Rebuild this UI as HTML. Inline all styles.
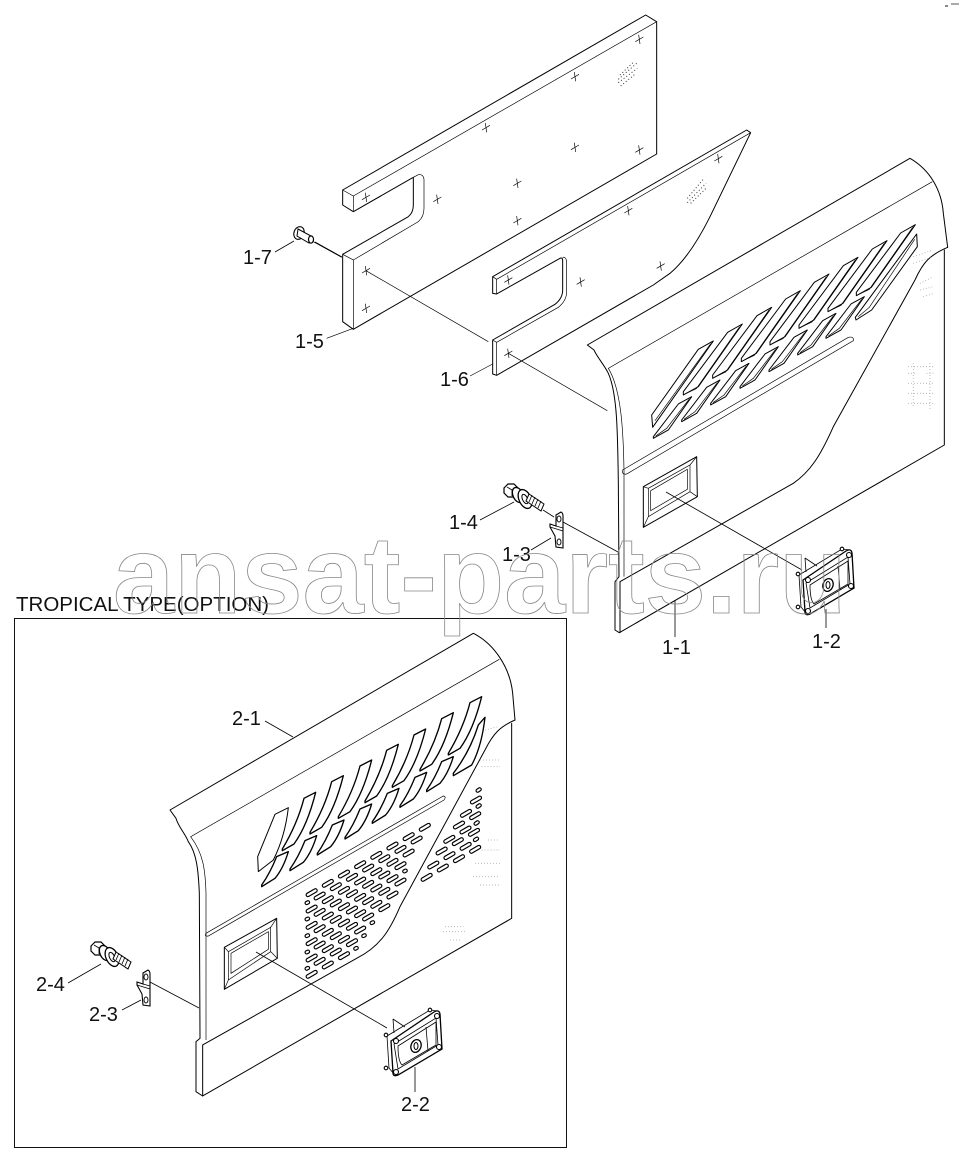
<!DOCTYPE html>
<html><head><meta charset="utf-8">
<style>
html,body{margin:0;padding:0;background:#fff;width:961px;height:1162px;overflow:hidden}
svg{display:block}
text{font-family:"Liberation Sans",sans-serif}
.l{font-size:20px;fill:#111}
.thin{fill:none;stroke:#000;stroke-width:.8}
.z{fill:none;stroke:#000;stroke-width:3;stroke-linejoin:round;stroke-linecap:round}
.zt{fill:none;stroke:#000;stroke-width:2}
.d{fill:none;stroke:#999;stroke-width:3;stroke-dasharray:2 7}
.dk{fill:none;stroke:#333;stroke-width:3;stroke-dasharray:3 7}
</style></head><body>
<svg width="961" height="1162" viewBox="0 0 961 1162" xmlns="http://www.w3.org/2000/svg">
<defs>
<path id="up1" d="M0,0L-44,25L-177,203L-177,213L-132,188Z" class="z"/>
<path id="up1i" d="M-8,8L-138,194L-172,210" class="zt"/>
<path id="lo1" d="M0,0L-40,22L-115,120L-115,125L-70,100Z" class="z"/>
<path id="lo1i" d="M-8,8L-75,95L-108,118" class="zt"/>
<path id="up2" d="M0,0L-35,18Q-55,95 -100,170L-100,175L-65,155Q-25,100 0,0Z" class="z" style="stroke-width:4"/>
<path id="lo2" d="M0,0L-35,15Q-55,65 -80,100L-80,105L-40,80Q-15,50 0,0Z" class="z" style="stroke-width:4"/>
<path id="holes" d="M53.7,374.5l362,-209M77.7,384.5l313.5,-181M53.7,423.5l313.5,-181M77.7,433.5l265,-153M53.7,472.5l265,-153M77.7,482.5l265,-153M53.7,521.5l265,-153M77.7,531.5l216.5,-125M53.7,570.5l168,-97M77.7,580.5l119.5,-69M53.7,619.5l119.5,-69M398.7,328.5l168,-97M418.7,291.5l119.5,-69M443.7,249.5l119.5,-69M466.7,214.5l71,-41M495.7,171.5l71,-41M516.7,136.5l22.5,-13M546.7,96.5l22.5,-13"/>
<path id="holesS" d="M50,399l4,-2M50,448l4,-2M50,498l4,-2M50,547l4,-2M50,596l4,-2M343,304l4,-2M245,459l4,-2M220,498l4,-2M196,536l4,-2M555,210l6,-4M557,161l6,-4M563,110l6,-4M563,62l6,-4"/>
<g id="cross"><path d="M-12,7L12,-7M-2,-14L2,14" class="zt"/></g>
<g id="bolt">
<path fill="#fff" stroke="#000" stroke-width="1.2" d="M504,488l4,-4l6,0l4,4l0,6l-4,3l-6,0l-4,-4z"/>
<path class="thin" d="M507,487l5,3l4,-2M512,490v6"/>
<ellipse fill="#fff" stroke="#000" stroke-width="1.3" cx="518" cy="495" rx="5" ry="8" transform="rotate(-25 518 495)"/>
<ellipse fill="#fff" stroke="#000" stroke-width="1.3" cx="525" cy="499" rx="6" ry="10" transform="rotate(-25 525 499)"/>
<ellipse fill="#fff" stroke="#000" stroke-width="1" cx="525" cy="499" rx="2.5" ry="5" transform="rotate(-25 525 499)"/>
<path fill="#fff" stroke="#000" stroke-width="1" d="M529,494L544,504L541,511L526,501Z"/>
<path class="thin" stroke-width="1.2" d="M532,495l-3,7M535,497l-3,7M538,499l-3,7M541,501l-3,7"/>
<path fill="#fff" stroke="#000" stroke-width="1.1" d="M556,515L561,512Q563,513 563,516V548L556,547L555,536L550,527V524L556,526Z"/>
<path class="thin" d="M550,527L563,531M556,526L563,528"/>
<ellipse fill="#fff" stroke="#000" stroke-width=".9" cx="559" cy="519" rx="2" ry="3"/><ellipse fill="#fff" stroke="#000" stroke-width=".9" cx="559" cy="542" rx="2" ry="3"/>
</g>
<g id="latch">
<path d="M805,558L806,572M805,558L817,566" class="thin" stroke-width="1"/>
<path d="M799,575L842,549L850,550" class="thin"/>
<path d="M799,575L801,607L806,613" class="thin" stroke-width="1.1"/>
<path d="M803,580L846,551Q851,548 852,553L854,588L810,614Q805,616 805,612Z" fill="#fff" stroke="#000" stroke-width="1.3"/>
<path d="M806,583L848,557L850,584L810,608Z" class="thin" stroke-width="1"/>
<path d="M810,585L848,561L848,584L814,604Q810,600 810,585Z" class="thin"/>
<path d="M838,566L840,590" class="thin" stroke-width="1.1"/>
<ellipse cx="828" cy="585" rx="5" ry="6.5" fill="#fff" stroke="#000" stroke-width="1.3" transform="rotate(20 828 585)"/>
<ellipse cx="828" cy="585" rx="2" ry="3.5" fill="#fff" stroke="#000" stroke-width="1"/>
<g fill="#fff" stroke="#000" stroke-width="1.1"><circle cx="808" cy="580" r="2.5"/><circle cx="849" cy="555" r="2.5"/><circle cx="851" cy="586" r="2.5"/><circle cx="808" cy="611" r="2.5"/><circle cx="798" cy="574" r="1.8"/><circle cx="798" cy="607" r="1.8"/><circle cx="842" cy="549" r="1.8"/></g>
</g>
</defs>

<!-- panel 1-5 and 1-6 -->
<g transform="translate(280,20) scale(.33333)">
<path class="z" d="M188,510L1097,-15L1130,5V402L220,928L188,905V703L385,590Q400,578 400,555V472L220,575L188,555Z"/>
<path class="zt" d="M188,510L220,528L1130,5M220,528V575M188,703L220,720V928M220,720L415,605Q432,590 432,565V478Q430,462 415,464L400,472"/>
<path class="z" d="M638,960L825,853Q848,835 848,810V722Q848,710 838,716L650,822L638,820V770L1400,330L1412,338L1290,590Q1230,710 1170,760L1120,795L650,1066L638,1062Z"/>
<path class="zt" d="M638,770L650,778L1412,338M650,778V822M638,960L650,967V1066M650,967L835,862Q860,842 860,815V725Q858,710 848,712"/>
<use href="#cross" x="258" y="532"/><use href="#cross" x="472" y="538"/><use href="#cross" x="712" y="490"/><use href="#cross" x="712" y="602"/><use href="#cross" x="618" y="323"/><use href="#cross" x="885" y="170"/><use href="#cross" x="885" y="382"/><use href="#cross" x="1078" y="58"/><use href="#cross" x="1078" y="390"/><use href="#cross" x="258" y="752"/><use href="#cross" x="258" y="865"/>
<use href="#cross" x="685" y="780"/><use href="#cross" x="902" y="786"/><use href="#cross" x="1142" y="738"/><use href="#cross" x="1045" y="572"/><use href="#cross" x="1315" y="416"/><use href="#cross" x="685" y="1000"/>
<path class="zt" d="M258,752L625,965M685,1000L982,1172M100,665L185,712M570,1068L638,1032M140,955L220,925"/>
<path class="dk" d="M1020,165L1062,125M1015,178L1070,130M1015,188L1072,145M1022,198L1068,160M1222,535L1272,475M1222,548L1278,490M1232,550L1278,505"/>
</g>

<!-- rivet 1-7 -->
<path class="thin" d="M275,252L294,241M315,242L342,257"/>
<ellipse cx="299" cy="233" rx="5" ry="6.5" transform="rotate(20 299 233)" fill="#fff" stroke="#000" stroke-width="1.1"/>
<path d="M298,229L311,236L309,243L297,236Z" fill="#fff" stroke="#000" stroke-width="1"/>
<ellipse cx="311" cy="239.5" rx="2.5" ry="3.6" fill="#fff" stroke="#000" stroke-width="1.2"/>

<!-- panel 1-1 -->
<g transform="translate(580,150) scale(.33333)">
<path class="z" d="M1093,300V885L118,1448L105,1440V1295L117,1280L115,1000C113,850 112,730 85,670C70,640 50,620 42,600L22,585L990,25C1050,60 1085,120 1090,190L1103,292"/>
<path class="zt" d="M132,1280V960C130,850 125,720 85,655L1057,95"/>
<path class="z" d="M1103,292C1050,315 1030,335 1005,390L760,830C720,920 690,965 640,1000L120,1295V1448"/>
<path class="zt" d="M128,960L805,562Q822,558 820,572L140,972Q125,975 128,960Z"/>
<path class="z" d="M190,1010L350,920L352,1040L190,1132Z"/>
<path class="zt" d="M205,1015L330,945V1025L205,1100ZM190,1010L205,1015M350,920L330,945M352,1040L330,1025M190,1132L205,1100M212,1022L322,958V1018L212,1082Z"/>
<path class="z" d="M400,573L355,598L215,795L218,832Z"/><path class="zt" d="M392,581L225,812"/>
<use href="#up1" x="487" y="522"/><use href="#up1i" x="487" y="522"/>
<use href="#up1" x="575" y="472"/><use href="#up1i" x="575" y="472"/>
<use href="#up1" x="661" y="422"/><use href="#up1i" x="661" y="422"/>
<use href="#up1" x="747" y="372"/><use href="#up1i" x="747" y="372"/>
<use href="#up1" x="834" y="322"/><use href="#up1i" x="834" y="322"/>
<use href="#up1" x="921" y="272"/><use href="#up1i" x="921" y="272"/>
<use href="#up1" x="1006" y="224"/><use href="#up1i" x="1006" y="224"/>
<use href="#lo1" x="335" y="740"/><use href="#lo1i" x="335" y="740"/>
<use href="#lo1" x="420" y="690"/><use href="#lo1i" x="420" y="690"/>
<use href="#lo1" x="507" y="640"/><use href="#lo1i" x="507" y="640"/>
<use href="#lo1" x="595" y="590"/><use href="#lo1i" x="595" y="590"/>
<use href="#lo1" x="682" y="540"/><use href="#lo1i" x="682" y="540"/>
<use href="#lo1" x="768" y="490"/><use href="#lo1i" x="768" y="490"/>
<use href="#lo1" x="853" y="440"/><use href="#lo1i" x="853" y="440"/>
<path class="z" d="M1010,252L1012,290L875,480L828,510L826,502Z"/><path class="zt" d="M1004,268L868,472L835,500"/>
<path class="d" d="M1000,320L1060,300M1000,340L1060,320M1020,400L1060,380M1020,420L1060,410M1030,440L1060,430M985,650H1060M985,670H1005M1040,670H1060M985,700H1060M985,730H1060M985,760H1060M1000,640V770M1050,640V780"/>
</g>

<use href="#latch"/>
<use href="#latch" x="-412" y="461"/>
<use href="#bolt"/>
<use href="#bolt" x="-413" y="458"/>
<path class="thin" d="M666,492L802,570M826,609V628M675,600V637M480,520L514,502M543,510L554,517M531,550L551,538M563,522L618,552M256,952L387,1028M415,1067V1092M265,721L293,737M68,983L101,964M122,1010L141,1000M150,982L199,1008"/>

<!-- panel 2-1 -->
<g transform="translate(160,630) scale(.33333)">
<path class="z" d="M1055,280V865L128,1398L108,1385V1235L120,1225L118,790C115,720 110,670 85,635C75,610 55,590 48,565L30,540L940,10C1000,40 1050,110 1058,190L1065,270"/>
<path class="zt" d="M138,1230V790C136,720 130,670 92,620L1018,88"/>
<path class="z" d="M1065,270C1020,290 1000,310 975,360L720,830C690,900 660,950 590,985L128,1245V1398"/>
<path class="zt" d="M138,910L850,498Q860,500 852,510L145,918Q132,920 138,910Z"/>
<path class="z" d="M193,952L350,865L352,985L193,1078Z"/>
<path class="zt" d="M205,965L332,892V965L205,1050ZM193,952L205,965M350,865L332,892M352,985L332,965M193,1078L205,1050M213,970L325,905V958L213,1030Z"/>
<path class="z" d="M385,533L345,553L293,680L295,725L340,690Q375,620 385,533Z"/>
<use href="#up2" x="467" y="487"/><use href="#up2" x="550" y="437"/><use href="#up2" x="635" y="390"/><use href="#up2" x="715" y="343"/><use href="#up2" x="797" y="297"/><use href="#up2" x="880" y="248"/><use href="#up2" x="965" y="200"/>
<use href="#lo2" x="385" y="665"/><use href="#lo2" x="470" y="617"/><use href="#lo2" x="552" y="570"/><use href="#lo2" x="635" y="522"/><use href="#lo2" x="717" y="475"/><use href="#lo2" x="800" y="427"/><use href="#lo2" x="880" y="380"/>
<path class="z" style="stroke-width:4" d="M975,262L955,285Q930,365 880,430V437L935,405Q965,350 975,262Z"/>
<path class="d" d="M975,300L1015,290M960,390H1020M965,410H1020M985,630H1020M965,660H1020M945,700H1020M940,740H1020M960,765H1020M855,890H910M850,905H915M870,930H900"/>
</g>

<!-- vent holes -->
<g transform="translate(290,770) scale(.33333)" fill="none" stroke-linecap="round">
<use href="#holes" stroke="#000" stroke-width="14" stroke-dasharray="26 30"/>
<use href="#holesS" stroke="#000" stroke-width="13"/>
<use href="#holes" stroke="#fff" stroke-width="7" stroke-dasharray="26 30"/>
<use href="#holesS" stroke="#fff" stroke-width="6"/>
</g>

<rect x="14.5" y="618.5" width="552" height="529" fill="none" stroke="#111" stroke-width="1"/>
<rect x="945" y="5" width="3" height="2" fill="#888"/><rect x="951" y="3" width="8" height="2" fill="#aaa"/>

<text class="l" x="243" y="264">1-7</text>
<text class="l" x="295" y="348">1-5</text>
<text class="l" x="440" y="386">1-6</text>
<text class="l" x="449" y="529">1-4</text>
<text class="l" x="502" y="561">1-3</text>
<text class="l" x="662" y="654">1-1</text>
<text class="l" x="812" y="648">1-2</text>
<text class="l" x="232" y="725">2-1</text>
<text class="l" x="401" y="1111">2-2</text>
<text class="l" x="89" y="1021">2-3</text>
<text class="l" x="36" y="991">2-4</text>
<text class="l" x="16" y="611" textLength="253" lengthAdjust="spacingAndGlyphs">TROPICAL TYPE(OPTION)</text>

<text x="113" y="613" font-size="110" font-weight="bold" fill="none" stroke="#888" stroke-width=".8">ansat-parts.ru</text>
</svg>
</body></html>
